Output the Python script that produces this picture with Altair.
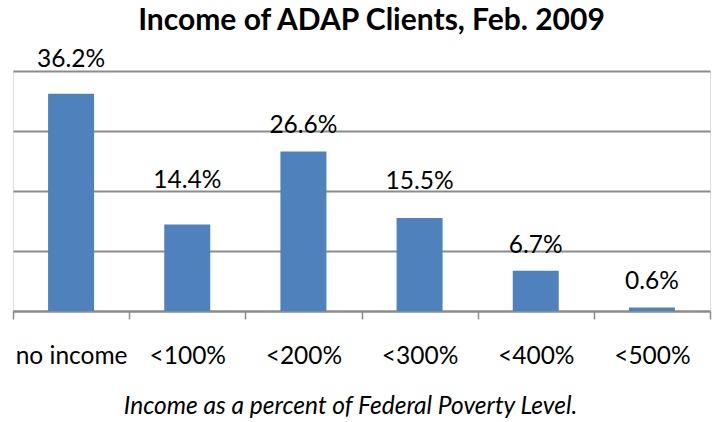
import altair as alt
import pandas as pd

categories = ["no income", "<100%", "<200%", "<300%", "<400%", "<500%"]
values = [36.2, 14.4, 26.6, 15.5, 6.7, 0.6]
labels = ["36.2%", "14.4%", "26.6%", "15.5%", "6.7%", "0.6%"]
grid_values = [0, 10, 20, 30, 40]

# extra lift (px) for labels that the original places higher than the rest
extra_lift = {"no income": 9, "<100%": 19, "<300%": 11}

df = pd.DataFrame({"cat": categories, "value": values, "label": labels})
df["lift"] = [extra_lift.get(c, 0) for c in categories]

FONT = "Lato"
GRID = "#8c8c8c"
LABEL_SIZE = 24.5

x = alt.X(
    "cat:N",
    sort=categories,
    scale=alt.Scale(paddingInner=0, paddingOuter=0),
    axis=alt.Axis(
        title="Income as a percent of Federal Poverty Level.",
        titleFont=FONT,
        titleFontSize=24.5,
        titleFontStyle="italic",
        titleFontWeight="normal",
        titleColor="#000000",
        titleBaseline="alphabetic",
        titleX=337,
        titleY=102,
        labelFont=FONT,
        labelFontSize=LABEL_SIZE,
        labelColor="#000000",
        labelAngle=0,
        labelBaseline="alphabetic",
        labelPadding=44,
        tickBand="extent",
        tickSize=8,
        tickColor=GRID,
        tickWidth=1.5,
        domainColor=GRID,
        domainWidth=2,
    ),
)
y = alt.Y(
    "value:Q",
    scale=alt.Scale(domain=[0, 40], nice=False),
    axis=alt.Axis(
        values=grid_values,
        labels=False,
        ticks=False,
        domain=False,
        title=None,
        grid=True,
        gridColor=GRID,
        gridWidth=2,
    ),
)

base = alt.Chart(df)
bars = base.mark_bar(color="#4f81bd", size=46).encode(x=x, y=y)

texts = []
for lift in sorted(set(df["lift"])):
    texts.append(
        base.transform_filter(alt.datum.lift == lift)
        .mark_text(font=FONT, fontSize=LABEL_SIZE, color="#000000",
                   baseline="alphabetic", dy=-18 - lift)
        .encode(x=alt.X("cat:N", sort=categories), y=alt.Y("value:Q"), text="label:N")
    )

chart = (
    alt.layer(bars, *texts)
    .properties(
        width=697,
        height=240,
        title=alt.TitleParams(
            "Income of ADAP Clients, Feb. 2009",
            font=FONT,
            fontSize=30,
            fontWeight="bold",
            color="#000000",
            anchor="middle",
            dx=10,
            offset=11,
        ),
        autosize=alt.AutoSizeParams(type="none"),
        padding={"left": 13, "top": 71, "right": 4, "bottom": 111},
    )
    .configure_view(stroke=None)
    .configure(background="white")
)

chart.save("out.html", embed_options={"renderer": "svg", "actions": False})
